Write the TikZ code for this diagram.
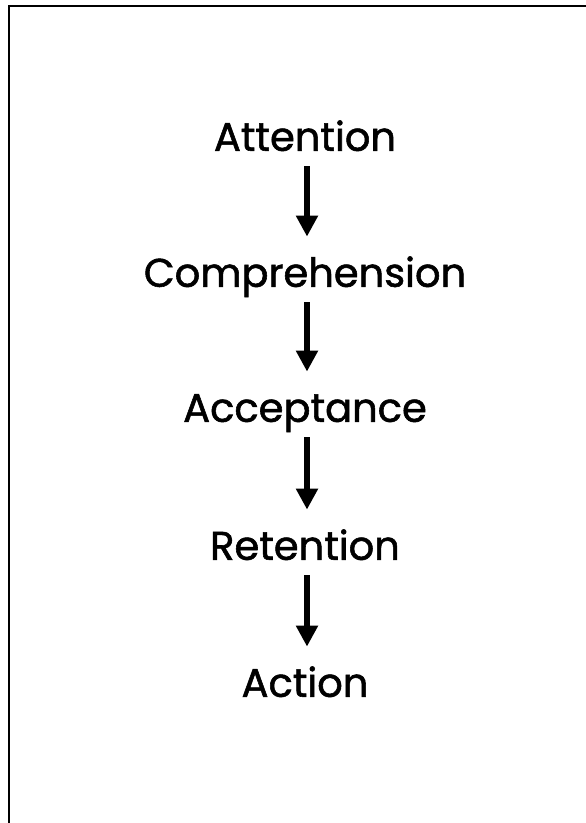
\documentclass[tikz,border=0pt]{standalone}
\usepackage{fontspec}
\setmainfont{Poppins}
\newfontfamily\stagefont{Poppins}[FakeBold=1.4]
\usetikzlibrary{arrows.meta}
\begin{document}
\begin{tikzpicture}[x=1pt,y=-1pt,
  stage/.style={inner sep=0pt, text height=30pt, text depth=0pt, anchor=south,
    font=\stagefont\fontsize{40}{48}\selectfont},
  flow/.style={line width=6.5pt, -{Triangle[width=21pt,length=21pt]}, shorten <=15pt, shorten >=20pt}]
\useasboundingbox (0,0) rectangle (586,823);
\fill[white] (0,0) rectangle (586,823);
\draw[line width=2.2pt] (9,830) -- (9,6) -- (600,6);
\node[stage] (att)  at (305,151) {Attention};
\node[stage] (comp) at (305,287) {Comprehension};
\node[stage] (acc)  at (305,422) {Acceptance};
\node[stage] (ret)  at (305,560) {Retention};
\node[stage] (act)  at (305,697) {Action};
\draw[flow] ([xshift=2pt]att.south) -- ([xshift=2pt]comp.north);
\draw[flow] ([xshift=2pt]comp.south) -- ([xshift=2pt]acc.north);
\draw[flow] ([xshift=2pt]acc.south) -- ([xshift=2pt]ret.north);
\draw[flow] ([xshift=2pt]ret.south) -- ([xshift=2pt]act.north);
\end{tikzpicture}
\end{document}
